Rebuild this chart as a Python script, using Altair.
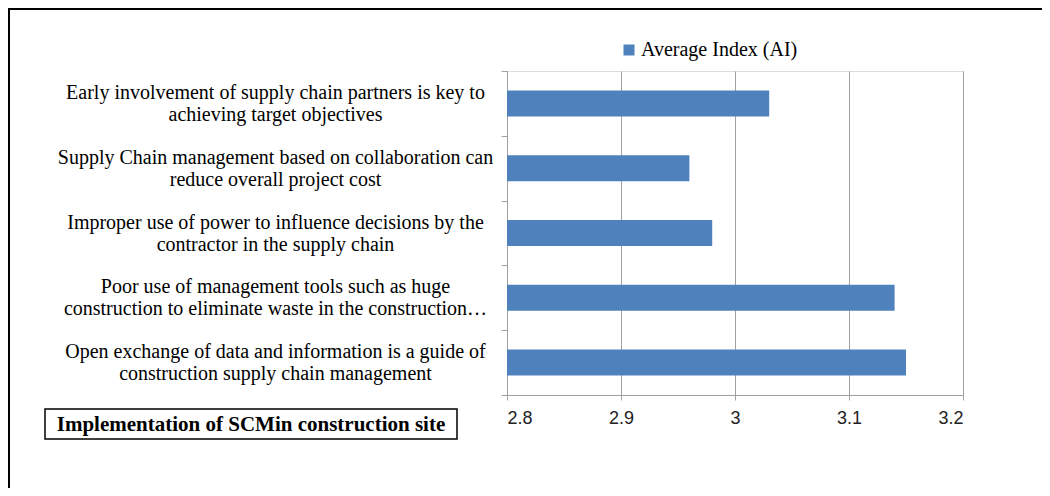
import altair as alt
import pandas as pd

categories = [
    "Early involvement of supply chain partners is key to\nachieving target objectives",
    "Supply Chain management based on collaboration can\nreduce overall project cost",
    "Improper use of power to influence decisions by the\ncontractor in the supply chain",
    "Poor use of management tools such as huge\nconstruction to eliminate waste in the construction\u2026",
    "Open exchange of data and information is a guide of\nconstruction supply chain management",
]
values = [3.03, 2.96, 2.98, 3.14, 3.15]
series_name = "Average Index (AI)"
x_ticks = [2.8, 2.9, 3.0, 3.1, 3.2]
annotation = "Implementation of SCMin construction site"

df = pd.DataFrame({"cat": categories, "val": values, "series": [series_name] * len(values)})
one = pd.DataFrame({"a": [0]})

W, H = 456, 324
PL, PT, PR, PB = 499, 63, 79, 93

serif = "Liberation Serif"
sans = "Liberation Sans"

bars = alt.Chart(df).mark_bar(color="#4f81bd", size=26).encode(
    y=alt.Y(
        "cat:N",
        sort=categories,
        title=None,
        scale=alt.Scale(paddingInner=0, paddingOuter=0),
        axis=alt.Axis(
            labelExpr="split(datum.label, '\\n')",
            labelAlign="center",
            labelBaseline="middle",
            labelPadding=226,
            labelOffset=-11,
            labelFont=serif,
            labelFontSize=20,
            labelLineHeight=22,
            labelColor="#000000",
            labelLimit=600,
            tickBand="extent",
            tickSize=6,
            tickColor="#a0a0a0",
            domainColor="#a0a0a0",
            grid=False,
        ),
    ),
    x=alt.X(
        "val:Q",
        title=None,
        scale=alt.Scale(domain=[x_ticks[0], x_ticks[-1]], zero=False, nice=False, clamp=True),
        axis=alt.Axis(
            values=x_ticks,
            format="~g",
            labelFont=sans,
            labelFontSize=18,
            labelColor="#222222",
            labelPadding=9,
            tickSize=5,
            tickColor="#a0a0a0",
            domainColor="#a0a0a0",
            grid=True,
            gridColor="#a0a0a0",
        ),
    ),
    x2=alt.datum(x_ticks[0]),
    color=alt.Color(
        "series:N",
        scale=alt.Scale(range=["#4f81bd"]),
        legend=alt.Legend(
            orient="none",
            legendX=112,
            legendY=-31,
            title=None,
            symbolType="square",
            symbolSize=121,
            symbolStrokeWidth=0,
            labelFont=serif,
            labelFontSize=20,
            labelColor="#000000",
            labelOffset=2,
            padding=0,
        ),
    ),
)

box = alt.Chart(one).mark_rect(fill="white", stroke="black", strokeWidth=1.5).encode(
    x=alt.value(-462), x2=alt.value(-50), y=alt.value(338), y2=alt.value(368)
)
box_text = alt.Chart(one).mark_text(
    text=annotation, font=serif, fontSize=21, fontWeight="bold", color="#000000",
    align="center", baseline="middle"
).encode(x=alt.value(-256), y=alt.value(354))

border_top = alt.Chart(one).mark_rule(color="black", strokeWidth=2).encode(
    x=alt.value(-PL), x2=alt.value(W + PR), y=alt.value(-PT + 1)
)
border_left = alt.Chart(one).mark_rule(color="black", strokeWidth=2).encode(
    x=alt.value(-PL + 1), y=alt.value(-PT), y2=alt.value(H + PB)
)

chart = alt.layer(bars, box, box_text, border_top, border_left).properties(
    width=W, height=H,
    autosize=alt.AutoSizeParams(type="none"),
    padding={"left": PL, "top": PT, "right": PR, "bottom": PB},
).configure_view(stroke=None).configure(background="white")

chart.save("out.html", embed_options={"renderer": "svg", "actions": False})
